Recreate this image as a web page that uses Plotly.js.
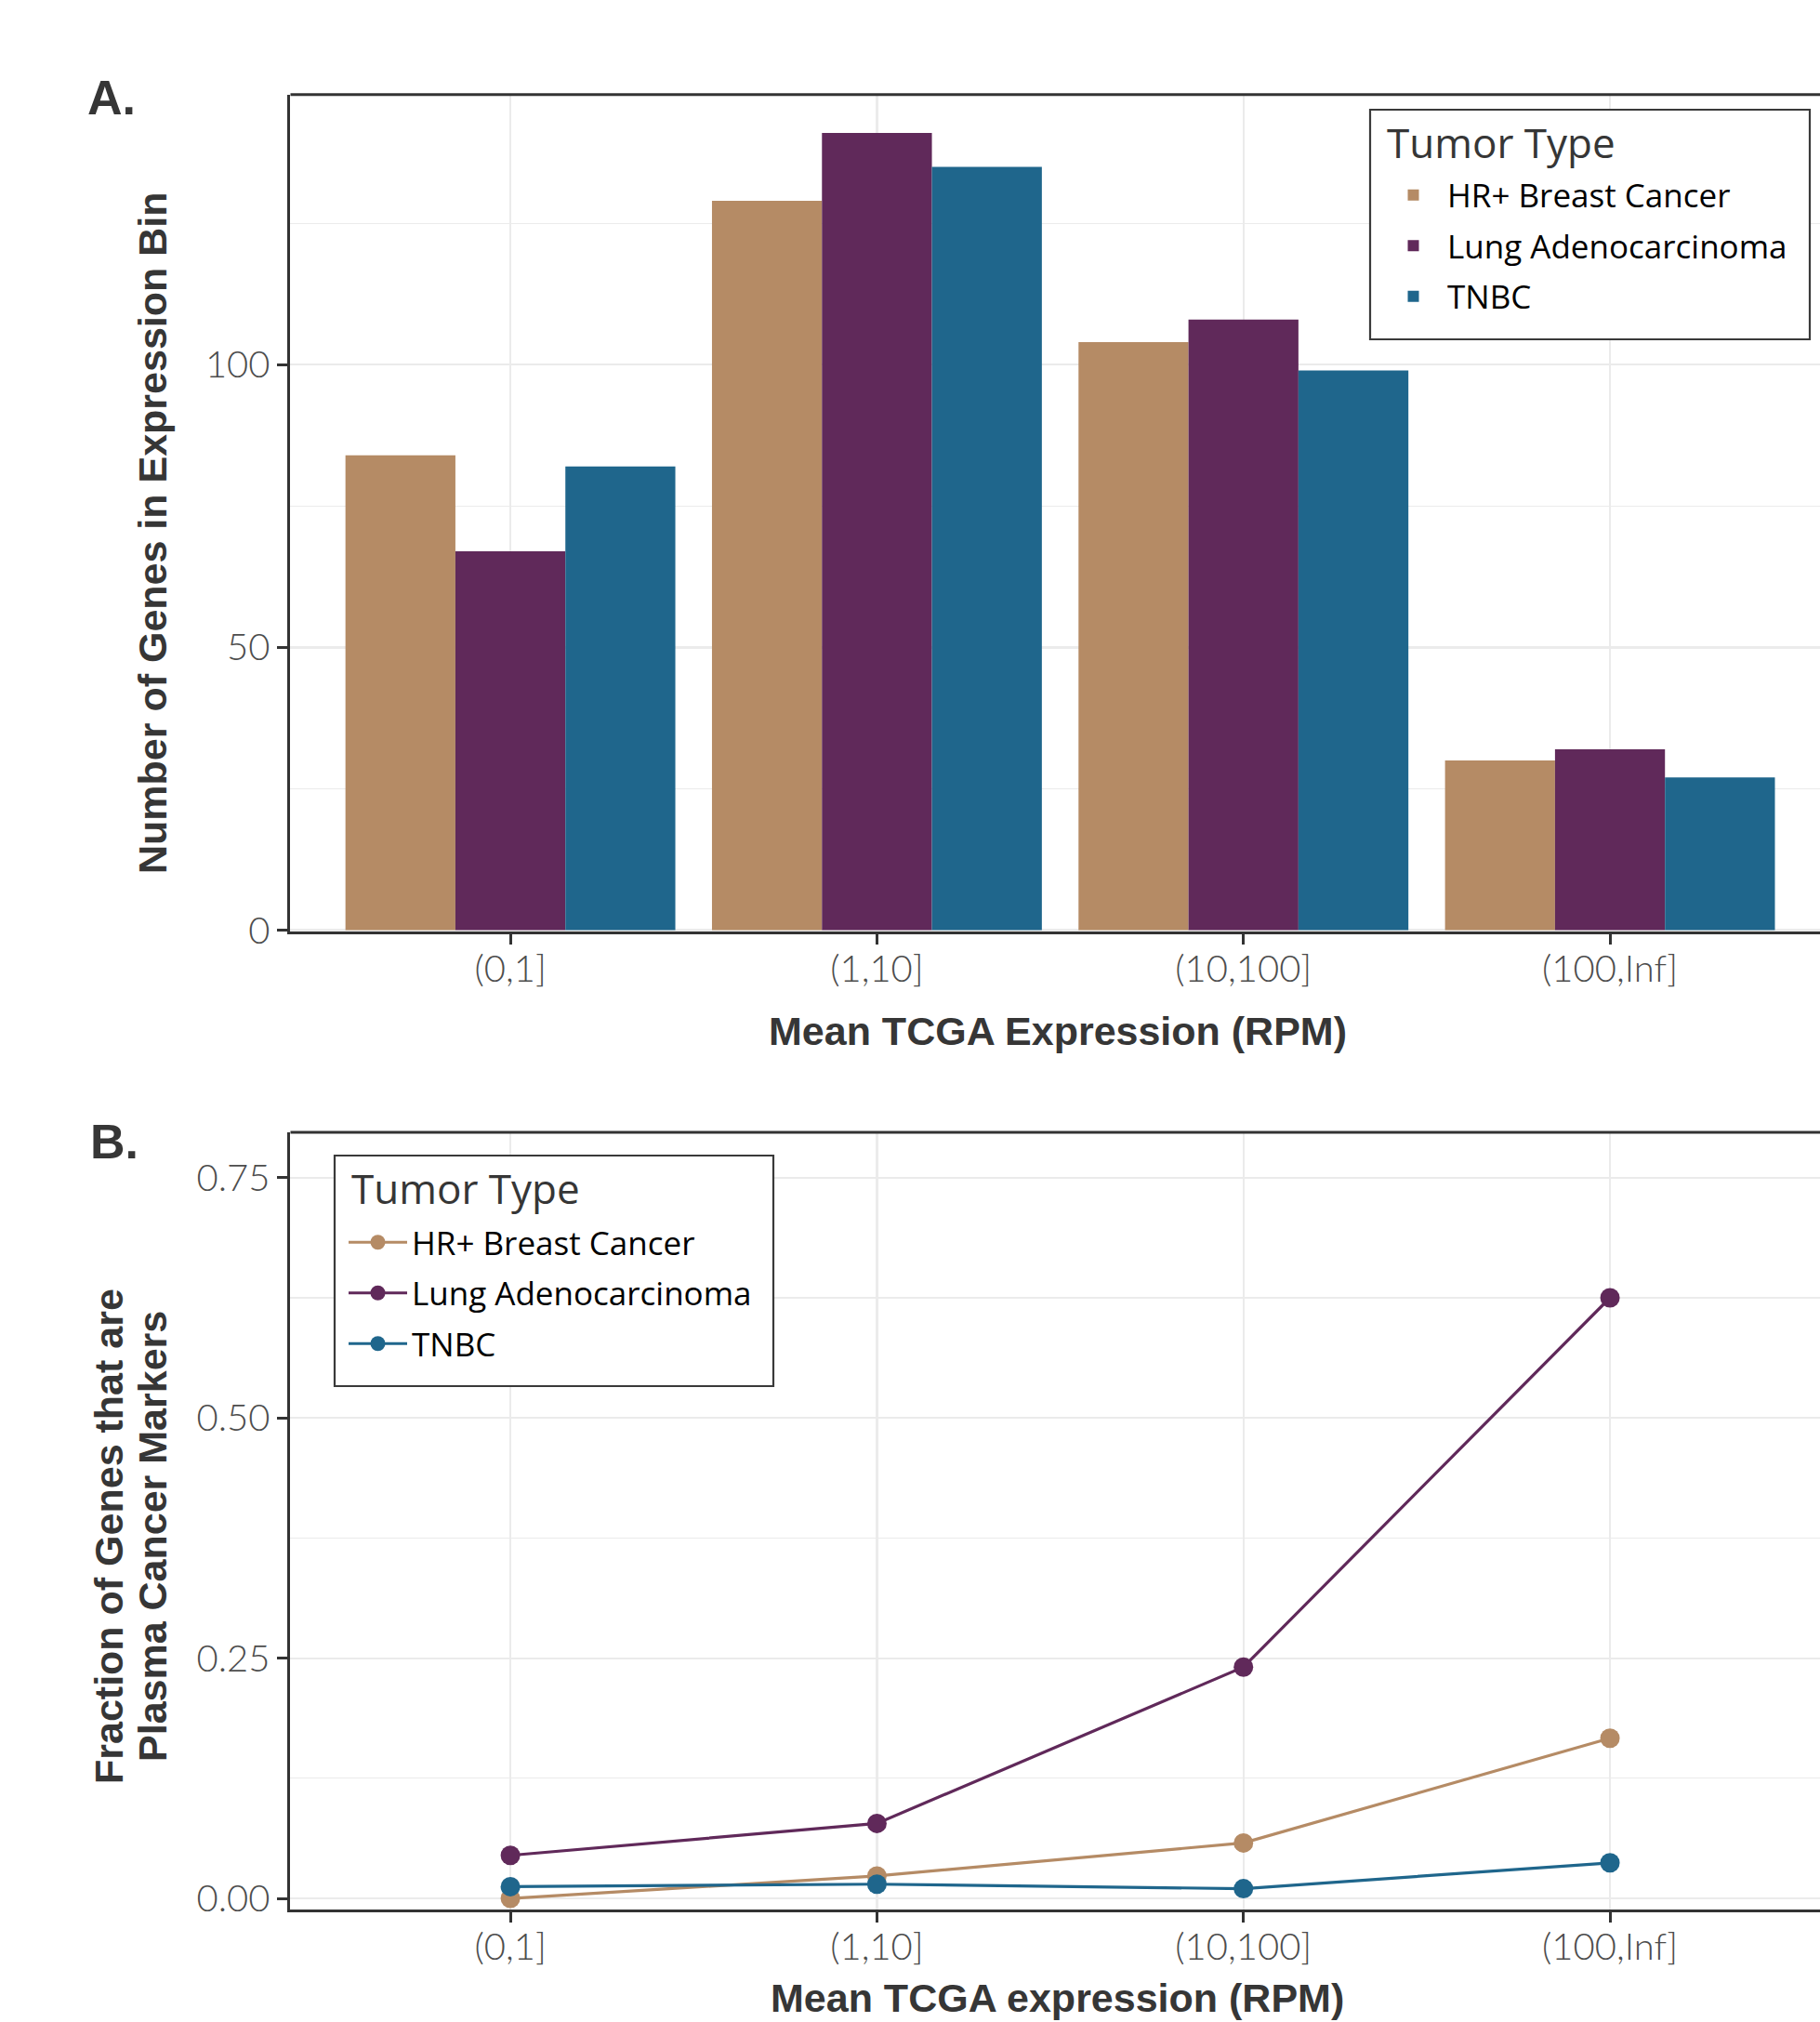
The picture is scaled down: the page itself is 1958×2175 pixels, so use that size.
<!DOCTYPE html>
<html><head><meta charset="utf-8">
<script src="https://cdn.plot.ly/plotly-3.0.1.min.js"></script>
<style>html,body{margin:0;padding:0;background:#fff;} #chart{width:1958px;height:2175px;}</style>
</head><body><div id="chart"></div>
<script>
// ---- data ----
const bins = ["(0,1]", "(1,10]", "(10,100]", "(100,Inf]"];
const tumorTypes = ["HR+ Breast Cancer", "Lung Adenocarcinoma", "TNBC"];
const legendTitle = "Tumor Type";
const colors = ["#B58B65", "#60295A", "#1F668C"];
// Panel A: number of genes in expression bin
const countsHR = [84, 129, 104, 30];
const countsLung = [67, 141, 108, 32];
const countsTNBC = [82, 135, 99, 27];
// Panel B: fraction of genes that are plasma cancer markers
const fracHR = [0.0, 0.0233, 0.0577, 0.1667];
const fracLung = [0.0448, 0.0780, 0.2407, 0.625];
const fracTNBC = [0.0122, 0.0148, 0.0101, 0.0370];
const yTicksA = [0, 50, 100];
const yMinorA = [25, 75, 125];
const yTicksB = [0, 0.25, 0.5, 0.75];
const yMinorB = [0.125, 0.375, 0.625];

const countSeries = [countsHR, countsLung, countsTNBC];
const fracSeries = [fracHR, fracLung, fracTNBC];

// ---- styles ----
const tickFont = {family: "Lato, 'Open Sans', sans-serif", size: 40, color: "#4d4d4d", weight: 300};
const titleFont = {family: "'Liberation Sans', Arial, sans-serif", size: 43, color: "#363636", weight: 700};
const legFont = {family: "'Open Sans', sans-serif", size: 35, color: "#000"};
const legTitleFont = {family: "'Open Sans', sans-serif", size: 44, color: "#363636"};
const gridColor = "#EBEBEB";
const axisColor = "#333333";

const traces = [];
tumorTypes.forEach((name, i) => {
  traces.push({
    type: 'bar', x: bins, y: countSeries[i], name: name,
    marker: {color: colors[i], line: {width: 0}},
    xaxis: 'x', yaxis: 'y', legend: 'legend', legendgroup: 'a' + i,
    hoverinfo: 'skip'
  });
});
tumorTypes.forEach((name, i) => {
  traces.push({
    type: 'scatter', mode: 'lines+markers', x: bins, y: fracSeries[i], name: name,
    line: {color: colors[i], width: 3.2},
    marker: {color: colors[i], size: 21},
    xaxis: 'x2', yaxis: 'y2', legend: 'legend2', legendgroup: 'b' + i,
    hoverinfo: 'skip'
  });
});

function xAxis() {
  return {
    type: 'category', categoryorder: 'array', categoryarray: bins,
    domain: [0.1596, 1], range: [-0.6, 3.573],
    showline: true, linecolor: axisColor, linewidth: 3,
    ticks: 'outside', ticklen: 11, tickwidth: 3, tickcolor: axisColor,
    tickfont: tickFont, ticklabelstandoff: -8,
    showgrid: true, gridcolor: gridColor, gridwidth: 2.2,
    zeroline: false, fixedrange: true
  };
}
function yAxis(domain, range, tickvals, minorvals, fmt) {
  return {
    domain: domain, range: range, tickvals: tickvals,
    tickformat: fmt,
    showline: true, linecolor: axisColor, linewidth: 3,
    ticks: 'outside', ticklen: 11, tickwidth: 3, tickcolor: axisColor,
    tickfont: tickFont, showgrid: true, gridcolor: gridColor, gridwidth: 2.2,
    minor: {tickvals: minorvals, showgrid: true, gridcolor: gridColor, gridwidth: 1.2, ticks: ''},
    zeroline: false, fixedrange: true
  };
}

function legendBox(x0, x1, y0, y1) {
  return {type: 'rect', xref: 'paper', yref: 'paper', x0: x0, x1: x1, y0: y0, y1: y1,
          layer: 'above', fillcolor: '#ffffff', line: {color: '#3a3a3a', width: 2.2}};
}
function legendCfg(x, y) {
  return {
    x: x, y: y, xanchor: 'left', yanchor: 'top',
    bgcolor: 'rgba(0,0,0,0)', borderwidth: 0,
    font: legFont,
    tracegroupgap: 6, itemwidth: 63, traceorder: 'grouped'
  };
}

const layout = {
  width: 1958, height: 2175,
  margin: {l: 0, r: 0, t: 0, b: 0, pad: 0},
  paper_bgcolor: '#fff', plot_bgcolor: '#fff',
  barmode: 'group', bargap: 0.1, bargroupgap: 0,
  showlegend: true,
  xaxis: Object.assign(xAxis(), {anchor: 'y'}),
  yaxis: Object.assign(yAxis([0.5393, 0.95324], [-0.25, 147.8], yTicksA, yMinorA, ''), {anchor: 'x'}),
  xaxis2: Object.assign(xAxis(), {anchor: 'y2'}),
  yaxis2: Object.assign(yAxis([0.05586, 0.44], [-0.0111, 0.7972], yTicksB, yMinorB, '.2f'), {anchor: 'x2'}),
  legend: legendCfg(1484 / 1958, 1 - 180.5 / 2175),
  legend2: legendCfg(370 / 1958, 1 - 1307 / 2175),
  shapes: [
    {type: 'line', xref: 'x domain', yref: 'y domain', x0: 0, x1: 1, y0: 1, y1: 1, line: {color: axisColor, width: 3}},
    {type: 'line', xref: 'x2 domain', yref: 'y2 domain', x0: 0, x1: 1, y0: 1, y1: 1, line: {color: axisColor, width: 3}},
    legendBox(0.75281, 0.99438, 0.83218, 0.94575),
    legendBox(0.18386, 0.42492, 0.31448, 0.42851)
  ],
  annotations: [
    {text: legendTitle, xref: 'paper', yref: 'paper', x: 1490 / 1958, y: 1 - 153 / 2175, xanchor: 'left', yanchor: 'middle', showarrow: false, font: legTitleFont},
    {text: legendTitle, xref: 'paper', yref: 'paper', x: 376 / 1958, y: 1 - 1278 / 2175, xanchor: 'left', yanchor: 'middle', showarrow: false, font: legTitleFont},
    {text: 'A.', xref: 'paper', yref: 'paper', x: 0.047, y: 0.9515, xanchor: 'left', yanchor: 'middle', showarrow: false,
     font: {family: "'Liberation Sans', Arial, sans-serif", size: 52, color: '#363636', weight: 700}},
    {text: 'B.', xref: 'paper', yref: 'paper', x: 0.0485, y: 0.4356, xanchor: 'left', yanchor: 'middle', showarrow: false,
     font: {family: "'Liberation Sans', Arial, sans-serif", size: 52, color: '#363636', weight: 700}},
    {text: 'Mean TCGA Expression (RPM)', xref: 'paper', yref: 'paper', x: 0.5812, y: 0.4901, xanchor: 'center', yanchor: 'middle', showarrow: false, font: titleFont},
    {text: 'Number of Genes in Expression Bin', xref: 'paper', yref: 'paper', x: 0.08376, y: 0.73655, xanchor: 'center', yanchor: 'middle', textangle: -90, showarrow: false, font: titleFont},
    {text: 'Fraction of Genes that are', xref: 'paper', yref: 'paper', x: 117 / 1958, y: 0.24, xanchor: 'center', yanchor: 'middle', textangle: -90, showarrow: false, font: titleFont},
    {text: 'Plasma Cancer Markers', xref: 'paper', yref: 'paper', x: 164 / 1958, y: 0.24, xanchor: 'center', yanchor: 'middle', textangle: -90, showarrow: false, font: titleFont},
    {text: 'Mean TCGA expression (RPM)', xref: 'paper', yref: 'paper', x: 0.5807, y: 0, xanchor: 'center', yanchor: 'bottom', showarrow: false, font: titleFont}
  ]
};

Plotly.newPlot('chart', traces, layout, {staticPlot: true, displayModeBar: false});
</script>
</body></html>
